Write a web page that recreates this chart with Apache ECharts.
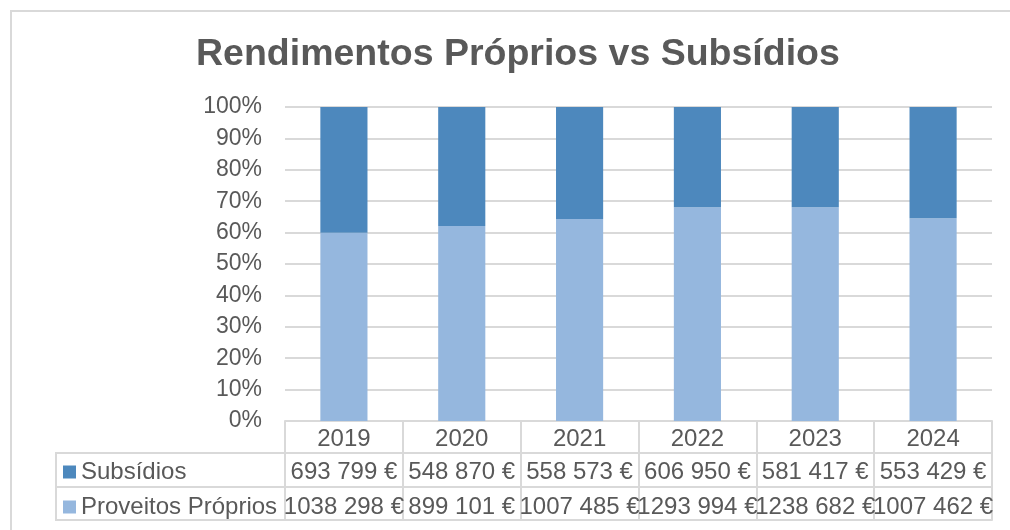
<!DOCTYPE html>
<html>
<head>
<meta charset="utf-8">
<script src="https://cdn.jsdelivr.net/npm/echarts@6/dist/echarts.min.js"></script>
<style>html,body{margin:0;padding:0;background:#fff;}#c{width:1010px;height:530px;}</style>
</head>
<body>
<div id="c"></div>
<script>
var categories = ['2019', '2020', '2021', '2022', '2023', '2024'];
var subsidios = [693799, 548870, 558573, 606950, 581417, 553429];
var proveitos = [1038298, 899101, 1007485, 1293994, 1238682, 1007462];
var yTicks = [0, 10, 20, 30, 40, 50, 60, 70, 80, 90, 100];

function fmtEuro(v) {
  var th = Math.floor(v / 1000), r = v % 1000;
  var rs = ('00' + r).slice(-3);
  return th + ' ' + rs + ' €';
}
var totals = categories.map(function (c, i) { return subsidios[i] + proveitos[i]; });
var provPct = proveitos.map(function (v, i) { return v / totals[i] * 100; });
var subPct = subsidios.map(function (v, i) { return v / totals[i] * 100; });

var TXT = '#595959', LINE = '#d9d9d9';
var FONT = 'Liberation Sans, Arial, sans-serif';
var chart = echarts.init(document.getElementById('c'));

function tableAxis(data, offset, showLabel, margin) {
  return {
    type: 'category', data: data, position: 'bottom', offset: offset, gridIndex: 0,
    axisLine: { show: true, lineStyle: { color: LINE, width: 2 } },
    axisTick: { show: false },
    axisLabel: { show: showLabel, interval: 0, color: TXT, fontSize: 24, fontFamily: FONT, margin: margin },
    splitLine: { show: false }
  };
}

chart.setOption({
  animation: false,
  title: {
    text: 'Rendimentos Próprios vs Subsídios', left: 191, top: 31,
    textStyle: { color: TXT, fontSize: 37.5, fontWeight: 'bold', fontFamily: FONT }
  },
  grid: { left: 285, right: 18, top: 107, bottom: 109, containLabel: false },
  legend: {
    data: ['Subsídios', 'Proveitos Próprios'], orient: 'vertical', left: 58, top: 455,
    itemWidth: 13, itemHeight: 13, itemGap: 11, icon: 'rect',
    textStyle: { color: TXT, fontSize: 24, fontFamily: FONT }, itemStyle: { borderWidth: 0 }
  },
  xAxis: [
    {
      type: 'category', data: categories, position: 'bottom',
      axisLine: { show: true, lineStyle: { color: LINE, width: 2 } },
      axisTick: { show: true, length: 99, interval: 0, lineStyle: { color: LINE, width: 2 } },
      axisLabel: { interval: 0, color: TXT, fontSize: 24, fontFamily: FONT, margin: 6 },
      splitLine: { show: false }
    },
    tableAxis(subsidios.map(fmtEuro), 32, true, 7),
    tableAxis(proveitos.map(fmtEuro), 66, true, 8),
    tableAxis(categories, 99, false, 5)
  ],
  yAxis: {
    type: 'value', min: 0, max: 100, interval: 10,
    axisLine: { show: false }, axisTick: { show: false },
    axisLabel: { formatter: '{value}%', color: TXT, fontSize: 23, fontFamily: FONT, margin: 23 },
    splitLine: { lineStyle: { color: LINE, width: 2 } }
  },
  series: [
    {
      name: 'Proveitos Próprios', type: 'bar', stack: 'total', data: provPct, barWidth: '40%',
      itemStyle: { color: '#95b7de' }
    },
    {
      name: 'Subsídios', type: 'bar', stack: 'total', data: subPct, barWidth: '40%',
      itemStyle: { color: '#4d88bd' }
    }
  ],
  graphic: [
    { type: 'rect', shape: { x: 11, y: 11, width: 1020, height: 540 }, style: { fill: 'none', stroke: LINE, lineWidth: 2 }, silent: true },
    { type: 'rect', shape: { x: 56, y: 453, width: 229, height: 67 }, style: { fill: 'none', stroke: LINE, lineWidth: 2 }, silent: true },
    { type: 'line', shape: { x1: 56, y1: 487, x2: 285, y2: 487 }, style: { stroke: LINE, lineWidth: 2 }, silent: true }
  ]
});
</script>
</body>
</html>
